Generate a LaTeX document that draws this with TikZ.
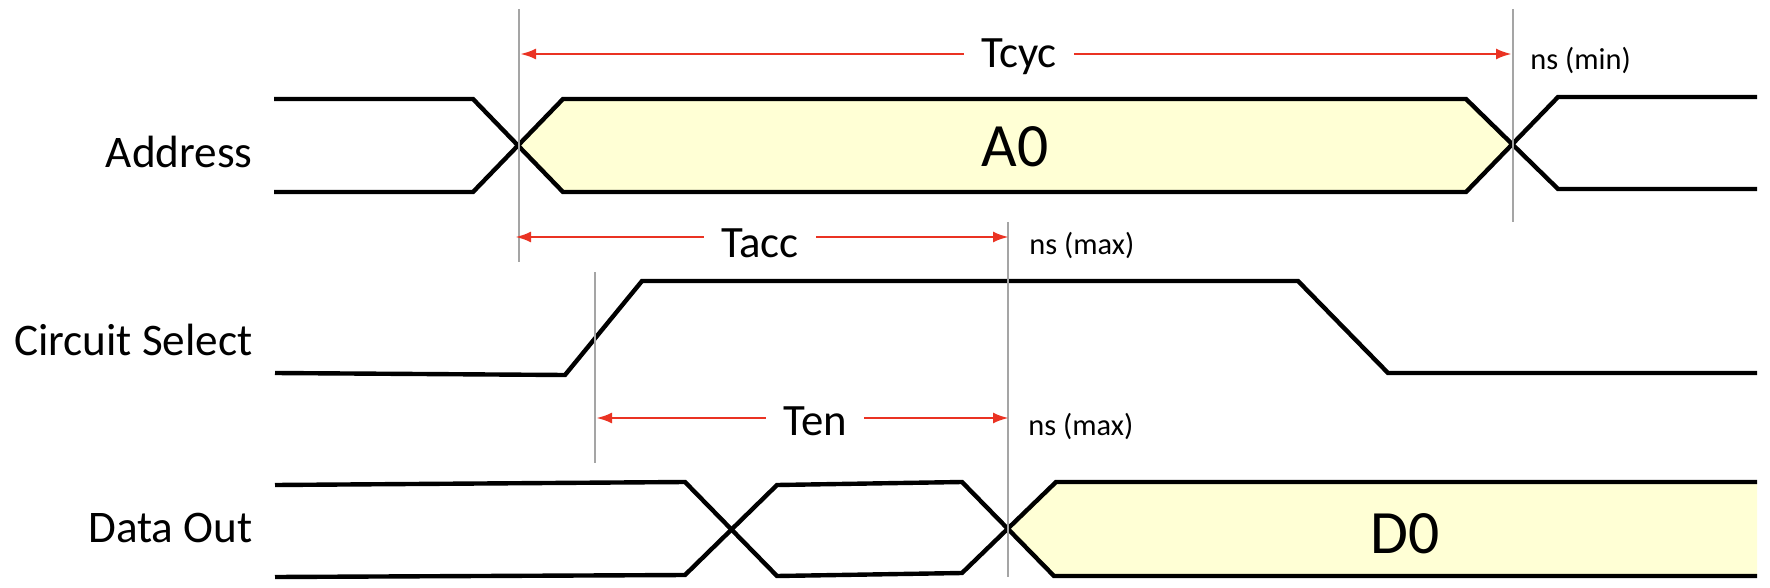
\documentclass[tikz,border=0pt]{standalone}
\usepackage{fontspec}
\setmainfont{Carlito}
\usetikzlibrary{arrows.meta}
\definecolor{sigfill}{RGB}{255,255,213}
\definecolor{dimred}{RGB}{234,51,35}
\definecolor{guide}{RGB}{165,165,165}
\tikzset{
  sig/.style={line width=2.2pt, black, line join=miter},
  guideline/.style={line width=1pt, guide},
  dim/.style={line width=1.4pt, dimred, -{Latex[length=8pt,width=5.5pt]}},
  siglabel/.style={anchor=base east, inner sep=0pt, font=\fontsize{22.6}{27}\selectfont},
  dimlabel/.style={anchor=base, inner xsep=8.5pt, inner ysep=0pt, font=\fontsize{22.4}{27}\selectfont},
  unitlabel/.style={anchor=base west, inner sep=0pt, font=\fontsize{15.2}{18}\selectfont},
  value/.style={anchor=base, inner sep=0pt, font=\fontsize{30.8}{36}\selectfont},
}
\begin{document}
\begin{tikzpicture}[x=0.5pt, y=-0.5pt]
\useasboundingbox (0,0) rectangle (1770,588);

% labels
\node[siglabel] (laddr) at (253,168) {Address};
\node[siglabel] (lcs) at (253,355) {Circuit Select};
\node[siglabel] (ldo) at (253,542) {Data Out};

% Address
\fill[sigfill] (519,146) -- (563,99) -- (1466,99) -- (1512,145) -- (1466,192) -- (563,192) -- cycle;
\draw[sig] (274,99) -- (473,99) -- (563,192) -- (1466,192) -- (1558,97) -- (1757,97);
\draw[sig] (274,192) -- (473,192) -- (563,99) -- (1466,99) -- (1558,189) -- (1757,189);
\node[value] (a0) at (1015,167) {A0};

% Circuit Select
\draw[sig] (275,373) -- (565,375) -- (642,281) -- (1298,281) -- (1388,373) -- (1757,373);

% Data Out
\fill[sigfill] (1008,529) -- (1056,482) -- (1757,482) -- (1757,576) -- (1054,576) -- cycle;
\draw[sig] (275,485) -- (685,482) -- (777,576) -- (962,573) -- (1056,482) -- (1757,482);
\draw[sig] (275,577) -- (685,575) -- (777,485) -- (962,482) -- (1054,576) -- (1757,576);
\node[value] (d0) at (1405,553) {D0};

% guide lines
\coordinate (g1t) at (519,9);   \coordinate (g1b) at (519,262);
\coordinate (g2t) at (1513,9);  \coordinate (g2b) at (1513,222);
\coordinate (g3t) at (1008,222); \coordinate (g3b) at (1008,577);
\coordinate (g4t) at (595,272); \coordinate (g4b) at (595,463);
\draw[guideline] (g1t) -- (g1b);
\draw[guideline] (g2t) -- (g2b);
\draw[guideline] (g3t) -- (g3b);
\draw[guideline] (g4t) -- (g4b);

% Tcyc
\node[dimlabel] (tcyc) at (1019,68) {Tcyc};
\coordinate (tcycL) at (520,54);
\coordinate (tcycR) at (1512,54);
\draw[dim] (tcyc.west |- tcycL) -- (tcycL);
\draw[dim] (tcyc.east |- tcycR) -- (tcycR);
\node[unitlabel] (nsmin) at (1530,70) {ns (min)};

% Tacc
\node[dimlabel] (tacc) at (760,257) {Tacc};
\coordinate (taccL) at (515,237);
\coordinate (taccR) at (1009,237);
\draw[dim] (tacc.west |- taccL) -- (taccL);
\draw[dim] (tacc.east |- taccR) -- (taccR);
\node[unitlabel] (nsmax1) at (1029,255) {ns (max)};

% Ten
\node[dimlabel] (ten) at (815,435) {Ten};
\coordinate (tenL) at (596,418);
\coordinate (tenR) at (1009,418);
\draw[dim] (ten.west |- tenL) -- (tenL);
\draw[dim] (ten.east |- tenR) -- (tenR);
\node[unitlabel] (nsmax2) at (1028,435) {ns (max)};
\end{tikzpicture}
\end{document}
